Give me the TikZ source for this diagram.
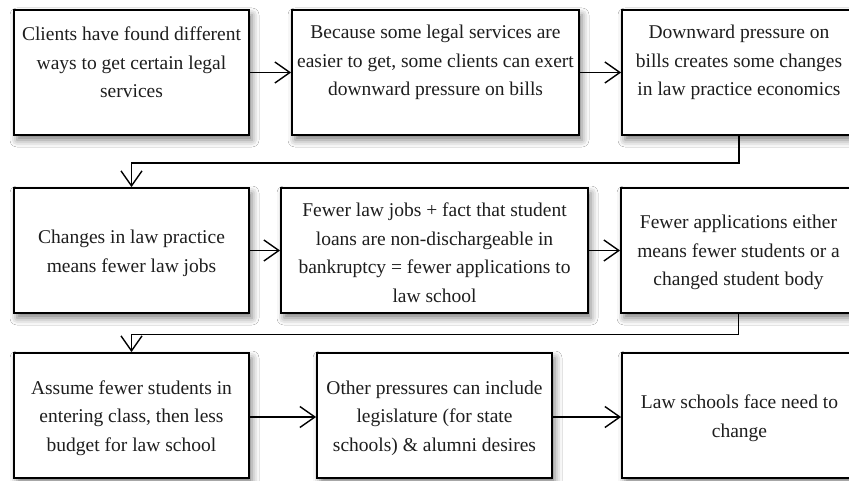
\documentclass[tikz,border=0pt]{standalone}
\usepackage{fontspec}
\setmainfont{Liberation Serif}
\usetikzlibrary{arrows.meta,shadows.blur}
\definecolor{txt}{HTML}{1E1E1E}
\tikzset{
  boxnode/.style={draw=black, line width=1.8pt, fill=white, minimum height=125pt,
    inner sep=0pt, blur shadow={shadow xshift=3pt, shadow yshift=-5pt, shadow blur radius=7pt, shadow opacity=50}},
  txtnode/.style={align=center, text=txt, inner sep=0pt, font=\fontsize{19.5}{28.5}\selectfont},
  conn/.style={line width=1.4pt, -{Straight Barb[length=15pt,width=21pt,line width=1.4pt]}}
}
\begin{document}
\begin{tikzpicture}[x=1pt,y=-1pt]
\useasboundingbox (0,0) rectangle (849,481);
\fill[white] (0,0) rectangle (849,481);
\clip (0,0) rectangle (849,481);
% row 1
\node[boxnode, minimum width=235pt] (b1) at (131.5,72.5) {};
\node[boxnode, minimum width=287pt] (b2) at (435.5,72.5) {};
\node[boxnode, minimum width=234pt] (b3) at (739,72.5) {};
% row 2
\node[boxnode, minimum width=235pt] (c1) at (131.5,250.5) {};
\node[boxnode, minimum width=307pt] (c2) at (434.5,250.5) {};
\node[boxnode, minimum width=235pt] (c3) at (738.5,250.5) {};
% row 3
\node[boxnode, minimum width=235pt] (d1) at (131.5,415.5) {};
\node[boxnode, minimum width=235pt] (d2) at (434.5,415.5) {};
\node[boxnode, minimum width=235pt] (d3) at (739.5,415.5) {};
% texts
\node[txtnode] (tb1) at ([yshift=10pt]b1.center) {Clients have found different\\ways to get certain legal\\services};
\node[txtnode] (tb2) at ([yshift=10pt]b2.center) {Because some legal services are\\easier to get, some clients can exert\\downward pressure on bills};
\node[txtnode] (tb3) at ([yshift=10pt]b3.center) {Downward pressure on\\bills creates some changes\\in law practice economics};
\node[txtnode] (tc1) at ([yshift=-3pt]c1.center) {Changes in law practice\\means fewer law jobs};
\node[txtnode] (tc2) at ([yshift=-2pt]c2.center) {Fewer law jobs + fact that student\\loans are non-dischargeable in\\bankruptcy = fewer applications to\\law school};
\node[txtnode] (tc3) at ([yshift=-2pt]c3.center) {Fewer applications either\\means fewer students or a\\changed student body};
\node[txtnode] (td1) at ([yshift=-2.5pt]d1.center) {Assume fewer students in\\entering class, then less\\budget for law school};
\node[txtnode] (td2) at ([yshift=-2.5pt]d2.center) {Other pressures can include\\legislature (for state\\schools) \& alumni desires};
\node[txtnode] (td3) at ([yshift=-2.5pt]d3.center) {Law schools face need to\\change};
% connectors
\draw[conn] (b1.east) -- (b2.west);
\draw[conn] (b2.east) -- (b3.west);
\draw[conn] (b3.south) -- ++(0,27) -| (c1.north);
\draw[conn] (c1.east) -- (c2.west);
\draw[conn] (c2.east) -- (c3.west);
\draw[conn] (c3.south) -- ++(0,20.5) -| (d1.north);
\draw[conn] ([yshift=-1.5pt]d1.east) -- ([yshift=-1.5pt]d2.west);
\draw[conn] ([yshift=-1.5pt]d2.east) -- ([yshift=-1.5pt]d3.west);
\end{tikzpicture}
\end{document}
